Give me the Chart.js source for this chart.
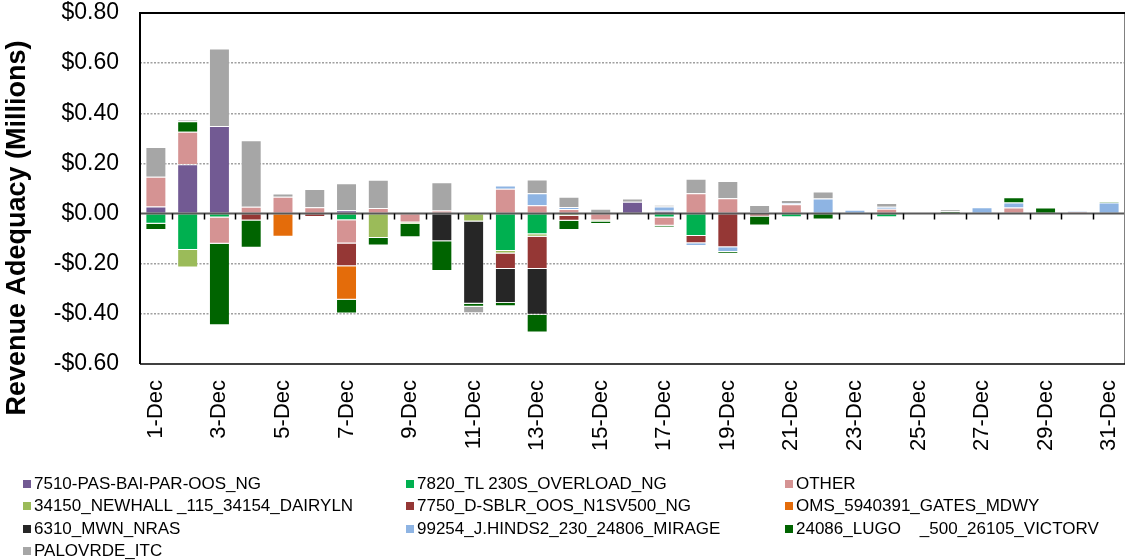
<!DOCTYPE html>
<html>
<head>
<meta charset="utf-8">
<script src="https://cdn.jsdelivr.net/npm/chart.js@4/dist/chart.umd.min.js"></script>
<style>
  html, body { margin: 0; padding: 0; background: #fff; }
  #wrap { position: relative; width: 1126px; height: 560px; overflow: hidden; }
  #chart { position: absolute; left: 0; top: 0; }
  #legend { position: absolute; left: 0; top: 0; width: 1126px; height: 560px; pointer-events: none;
            font-family: Arial, "Liberation Sans", sans-serif; font-size: 17px; color: #000; }
  .item { position: absolute; display: flex; align-items: center; height: 20px; white-space: pre; }
  .sw { width: 8px; height: 8px; margin-right: 3px; flex: none; }
</style>
</head>
<body>
<div id="wrap">
  <canvas id="chart" width="1126" height="560"></canvas>
  <div id="legend"></div>
</div>
<script>
// Daily congestion revenue adequacy by constraint, December ($ millions)
const days = ['1-Dec','2-Dec','3-Dec','4-Dec','5-Dec','6-Dec','7-Dec','8-Dec','9-Dec','10-Dec',
  '11-Dec','12-Dec','13-Dec','14-Dec','15-Dec','16-Dec','17-Dec','18-Dec','19-Dec','20-Dec',
  '21-Dec','22-Dec','23-Dec','24-Dec','25-Dec','26-Dec','27-Dec','28-Dec','29-Dec','30-Dec','31-Dec'];

const pasBaiPar = [0.028,0.197,0.349,0,0,0,0.013,0,0,0,0,0,0,0,0,0.047,0.011,0,0,0,0,0,0,0,0,0,0,0,0,0,0];
const tl230s    = [-0.041,-0.145,-0.016,0,0,0,-0.027,0,0,0,0,-0.149,-0.082,0,0,0,-0.016,-0.089,0,0,-0.015,0,0,-0.015,0,0,0,0,0,0,0];
const other     = [0.119,0.129,-0.104,0.027,0.067,0.025,-0.092,0.022,-0.036,0.012,0.004,0.099,0.033,0.018,-0.028,0,-0.033,0.081,0.061,0.003,0.037,0,0,0.019,0,0,0,0.024,0,0.008,0];
const newhall   = [0,-0.070,0,0,0,0,0,-0.097,-0.006,0,-0.032,-0.010,-0.010,-0.009,-0.004,0,0,0,0,0,0,0,0,0,0,0,0,0,0,0,0];
const dSblr     = [0,0,0,-0.028,0,-0.014,-0.091,0,0,0,0,-0.062,-0.129,-0.020,0,0,0,-0.029,-0.134,-0.012,0,0,0,0,0,0,0,0,0,0,0];
const gatesMdwy = [0,0,0,0,-0.092,0,-0.134,0,0,0,0,0,0,0,0,0,0,0,0,0,0,0,0,0,0,0,0,0,0,0,0];
const mwnNras    = [0,0,0,0,0,0,0,0,0,-0.110,-0.328,-0.136,-0.183,0,0,0,0,0,0,0,0,0,0,0,0,0,0,0,0,0,0];
const hindsMirage = [0,0,0,0,0,0,0,0,0,0,0,0.013,0.048,0.008,0,0,0.017,-0.011,-0.019,0.002,0.005,0.060,0.015,0.008,0,0,0.025,0.020,0,0.005,0.044];
const lugoVictorv = [-0.025,0.042,-0.325,-0.108,0,0,-0.055,-0.030,-0.052,-0.119,-0.012,-0.013,-0.070,-0.037,-0.010,0,-0.005,0,-0.007,-0.036,0,-0.024,0,0,0,0.009,0,0.021,0.024,0,0.004];
const palovrde  = [0.119,0.007,0.309,0.265,0.013,0.073,0.108,0.113,0,0.113,-0.026,0,0.055,0.041,0.019,0.013,0.007,0.058,0.069,0.029,0.012,0.028,0,0.015,0,0.008,0,0,0,0,0];

const seriesNames = ['7510-PAS-BAI-PAR-OOS_NG','7820_TL 230S_OVERLOAD_NG','OTHER',
  '34150_NEWHALL _115_34154_DAIRYLN','7750_D-SBLR_OOS_N1SV500_NG','OMS_5940391_GATES_MDWY',
  '6310_MWN_NRAS','99254_J.HINDS2_230_24806_MIRAGE','24086_LUGO    _500_26105_VICTORV','PALOVRDE_ITC'];
const seriesValues = [pasBaiPar, tl230s, other, newhall, dSblr, gatesMdwy, mwnNras, hindsMirage, lugoVictorv, palovrde];
const seriesColors = ['#725A93','#00B050','#D59393','#9BBB59','#953735','#E46C0A','#262626','#8EB4E3','#006400','#A6A6A6'];

const FONT = 'Arial, "Liberation Sans", sans-serif';

function money(v) {
  const r = Math.round(v * 100) / 100;
  const s = '$' + Math.abs(r).toFixed(2);
  return r < 0 ? '-' + s : s;
}

// Zero line with category ticks, plot frame and the vertical axis title
const framePlugin = {
  id: 'frame',
  afterDatasetsDraw(chart) {
    const { ctx, chartArea: a, scales: { x, y } } = chart;
    const y0 = y.getPixelForValue(0);
    ctx.save();
    ctx.strokeStyle = '#595959';
    ctx.lineWidth = 2;
    ctx.beginPath();
    ctx.moveTo(a.left, y0);
    ctx.lineTo(a.right, y0);
    ctx.stroke();

    ctx.strokeStyle = '#000';
    ctx.lineWidth = 1.5;
    ctx.beginPath();
    for (let i = 1; i < days.length; i++) {
      const bx = Math.round((x.getPixelForValue(i - 1) + x.getPixelForValue(i)) / 2) + 0.5;
      ctx.moveTo(bx, y0);
      ctx.lineTo(bx, y0 + 6);
    }
    ctx.stroke();

    ctx.strokeStyle = '#808080';
    ctx.lineWidth = 1;
    ctx.beginPath();
    ctx.moveTo(a.right - 0.5, a.top);
    ctx.lineTo(a.right - 0.5, a.bottom);
    ctx.stroke();

    ctx.strokeStyle = '#000';
    ctx.lineWidth = 1.5;
    ctx.beginPath();
    ctx.moveTo(a.left, a.bottom);
    ctx.lineTo(a.right, a.bottom);
    ctx.stroke();

    ctx.lineWidth = 2;
    ctx.beginPath();
    ctx.moveTo(a.left, a.bottom);
    ctx.lineTo(a.left, a.top);
    ctx.lineTo(a.right, a.top);
    ctx.stroke();

    ctx.translate(18, 228);
    ctx.rotate(-Math.PI / 2);
    ctx.fillStyle = '#000';
    ctx.font = 'bold 27px ' + FONT;
    ctx.textAlign = 'center';
    ctx.textBaseline = 'middle';
    ctx.fillText('Revenue Adequacy (Millions)', 0, 0);
    ctx.restore();
  }
};

const chart = new Chart(document.getElementById('chart'), {
  type: 'bar',
  data: {
    labels: days,
    datasets: seriesNames.map((name, i) => ({
      label: name,
      data: seriesValues[i],
      backgroundColor: seriesColors[i],
      borderColor: 'rgba(255,255,255,0.35)',
      borderWidth: 1,
      barPercentage: 0.66,
      categoryPercentage: 1.0
    }))
  },
  options: {
    responsive: false,
    animation: false,
    devicePixelRatio: 1,
    layout: { padding: { left: 0, top: 13, right: 1, bottom: 0 } },
    plugins: { legend: { display: false }, tooltip: { enabled: false } },
    scales: {
      x: {
        stacked: true,
        offset: true,
        grid: { display: false },
        border: { display: false },
        ticks: {
          autoSkip: false,
          minRotation: 90,
          maxRotation: 90,
          padding: 8,
          color: '#000',
          font: { family: FONT, size: 22, lineHeight: 1 },
          callback(v, i) { return i % 2 === 0 ? this.getLabelForValue(v) : ''; }
        },
        afterFit(s) {
          s.height = 196;
          s.paddingLeft = 0;
          s.paddingRight = 0;
        }
      },
      y: {
        stacked: true,
        min: -0.6,
        max: 0.8,
        ticks: {
          stepSize: 0.2,
          padding: 21,
          color: '#000',
          font: { family: FONT, size: 23, lineHeight: 1 },
          callback: (v) => money(v)
        },
        grid: {
          drawTicks: false,
          lineWidth: 1.5,
          color: (c) => {
            const v = Math.round(c.tick.value * 100);
            return (v === 0 || v >= 80 || v <= -60) ? 'rgba(0,0,0,0)' : '#A0A0A0';
          }
        },
        border: { display: false, dash: [2, 1.5] },
        afterFit(s) {
          s.width = 140;
          s.paddingTop = 0;
          s.paddingBottom = 0;
        }
      }
    }
  },
  plugins: [framePlugin]
});

// Legend laid out in three columns beneath the plot
const legend = document.getElementById('legend');
const colX = [23, 406, 785];
const rowY = [474, 496, 519, 541];
chart.data.datasets.forEach((ds, i) => {
  const item = document.createElement('div');
  item.className = 'item';
  item.style.left = colX[i % 3] + 'px';
  item.style.top = rowY[Math.floor(i / 3)] + 'px';
  const sw = document.createElement('span');
  sw.className = 'sw';
  sw.style.background = ds.backgroundColor;
  const tx = document.createElement('span');
  tx.textContent = ds.label;
  item.appendChild(sw);
  item.appendChild(tx);
  legend.appendChild(item);
});
</script>
</body>
</html>
